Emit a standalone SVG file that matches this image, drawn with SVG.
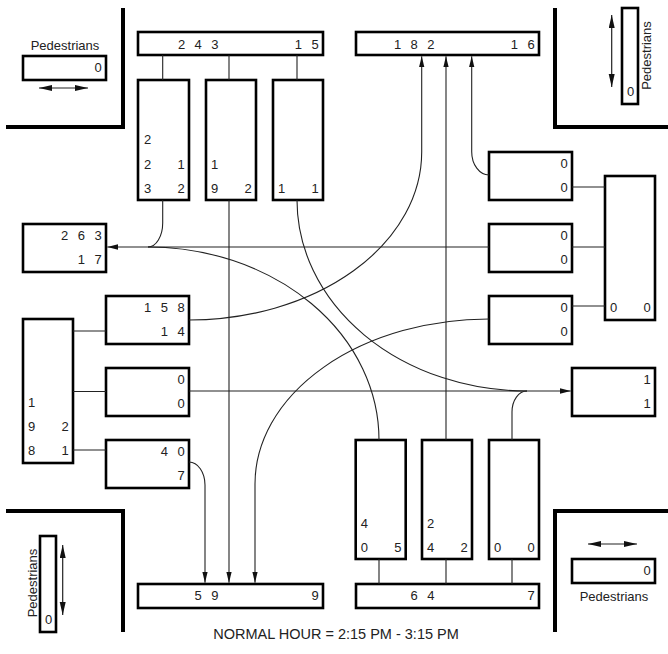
<svg xmlns="http://www.w3.org/2000/svg" width="668" height="654" viewBox="0 0 668 654">
<defs>
<marker id="ah" markerUnits="userSpaceOnUse" markerWidth="12" markerHeight="6" refX="11" refY="2.7" orient="auto"><path d="M0,0 L11,2.7 L0,5.4 Z" fill="#111"/></marker>
<marker id="ph" markerUnits="userSpaceOnUse" markerWidth="14" markerHeight="7" refX="13" refY="3" orient="auto-start-reverse"><path d="M0,0 L13,3 L0,6 Z" fill="#111"/></marker>
</defs>
<style>
.box{fill:#fff;stroke:#000;stroke-width:2.6}
.wall{fill:none;stroke:#000;stroke-width:4;stroke-linejoin:miter}
.ln{fill:none;stroke:#222;stroke-width:1.1}
.fl{fill:none;stroke:#222;stroke-width:1.1;marker-end:url(#ah)}
.pa{fill:none;stroke:#222;stroke-width:1.2;marker-start:url(#ph);marker-end:url(#ph)}
text{font-family:"Liberation Sans",Arial,Helvetica,sans-serif;fill:#222;font-size:13px}
.lbl{text-anchor:middle}
.title{font-size:14.5px;text-anchor:middle}
</style>
<rect width="668" height="654" fill="#fff"/>
<g id="walls">
<path class="wall" d="M6,127 H123 V8"/>
<path class="wall" d="M555,8 V127 H668"/>
<path class="wall" d="M6,511 H123 V632"/>
<path class="wall" d="M668,511 H555 V632"/>
</g>
<g id="ped-nw">
<text class="lbl" x="65" y="50">Pedestrians</text>
<rect class="box" x="23" y="56" width="83" height="24"/>
<text x="94.5" y="72">0</text>
<path class="pa" d="M39,88 H88"/>
</g>
<g id="ped-ne">
<rect class="box" x="622" y="8" width="16" height="96"/>
<text x="627" y="96">0</text>
<text class="lbl" transform="translate(651,55.5) rotate(-90)">Pedestrians</text>
<path class="pa" d="M611.7,15 V87"/>
</g>
<g id="ped-sw">
<rect class="box" x="40" y="536" width="16" height="96"/>
<text x="45" y="624">0</text>
<text class="lbl" transform="translate(36.7,583) rotate(-90)">Pedestrians</text>
<path class="pa" d="M62.7,545 V615"/>
</g>
<g id="ped-se">
<path class="pa" d="M588,544 H637"/>
<rect class="box" x="572" y="559" width="83" height="24"/>
<text x="643.5" y="575">0</text>
<text class="lbl" x="614" y="601">Pedestrians</text>
</g>
<g id="north-exit-in">
<rect class="box" x="138" y="32" width="185" height="23"/>
<text x="177.9 186 194.6 203 211.3" y="48.5">2 4 3</text>
<text x="294.8 303 311.5" y="48.5">1 5</text>
</g>
<g id="north-out">
<rect class="box" x="356" y="32" width="183" height="23"/>
<text x="393.9 402 410.6 419 427.3" y="48.5">1 8 2</text>
<text x="510.8 519 527.5" y="48.5">1 6</text>
</g>
<g id="sb-right">
<rect class="box" x="138" y="80" width="51" height="120"/>
<text x="144.1" y="144">2</text>
<text x="144.1 152 177.5" y="168.5">2 1</text>
<text x="144.1 152 177.5" y="193">3 2</text>
</g>
<g id="sb-through">
<rect class="box" x="206" y="80" width="50" height="120"/>
<text x="211.1" y="168.5">1</text>
<text x="211.1 220 244.5" y="193">9 2</text>
</g>
<g id="sb-left">
<rect class="box" x="273" y="80" width="50" height="120"/>
<text x="278.1 287 311.5" y="193">1 1</text>
</g>
<g id="west-out">
<rect class="box" x="23" y="224" width="83" height="48"/>
<text x="61.1 69 77.8 86 94.5" y="240">2 6 3</text>
<text x="77.8 86 94.5" y="263.5">1 7</text>
</g>
<g id="west-in">
<rect class="box" x="23" y="319" width="50" height="144"/>
<text x="28.1" y="407">1</text>
<text x="28.1 37 61.5" y="431">9 2</text>
<text x="28.1 37 61.5" y="455">8 1</text>
</g>
<g id="eb-left">
<rect class="box" x="106" y="296" width="83" height="48"/>
<text x="144.1 152 160.8 169 177.5" y="312">1 5 8</text>
<text x="160.8 169 177.5" y="335.5">1 4</text>
</g>
<g id="eb-through">
<rect class="box" x="106" y="368" width="83" height="48"/>
<text x="177.5" y="384">0</text>
<text x="177.5" y="407.5">0</text>
</g>
<g id="eb-right">
<rect class="box" x="106" y="440" width="83" height="48"/>
<text x="160.8 169 177.5" y="456">4 0</text>
<text x="177.5" y="479.5">7</text>
</g>
<g id="wb-right">
<rect class="box" x="489" y="152" width="83" height="48"/>
<text x="560.5" y="168">0</text>
<text x="560.5" y="191.5">0</text>
</g>
<g id="wb-through">
<rect class="box" x="489" y="224" width="83" height="48"/>
<text x="560.5" y="240">0</text>
<text x="560.5" y="263.5">0</text>
</g>
<g id="wb-left">
<rect class="box" x="489" y="296" width="83" height="48"/>
<text x="560.5" y="312">0</text>
<text x="560.5" y="335.5">0</text>
</g>
<g id="east-in">
<rect class="box" x="605" y="176" width="50" height="144"/>
<text x="610.1 619 643.5" y="312">0 0</text>
</g>
<g id="east-out">
<rect class="box" x="572" y="368" width="83" height="48"/>
<text x="643.5" y="384">1</text>
<text x="643.5" y="407.5">1</text>
</g>
<g id="nb-left">
<rect class="box" x="355.7" y="440" width="50" height="119"/>
<text x="360.8" y="528">4</text>
<text x="360.8 370 394.2" y="552">0 5</text>
</g>
<g id="nb-through">
<rect class="box" x="422" y="440" width="50" height="119"/>
<text x="427.1" y="528">2</text>
<text x="427.1 436 460.5" y="552">4 2</text>
</g>
<g id="nb-right">
<rect class="box" x="489" y="440" width="50" height="119"/>
<text x="494.1 503 527.5" y="552">0 0</text>
</g>
<g id="south-out">
<rect class="box" x="138" y="584" width="185" height="24"/>
<text x="194.6 203 211.3" y="600">5 9</text>
<text x="311.5" y="600">9</text>
</g>
<g id="south-in">
<rect class="box" x="356" y="584" width="183" height="24"/>
<text x="410.6 419 427.3" y="600">6 4</text>
<text x="527.5" y="600">7</text>
</g>
<g id="connectors">
<path class="ln" d="M162.7,55 V80 M229,55 V80 M297,55 V80"/>
<path class="ln" d="M572,187 H605 M572,247 H605 M572,306 H605"/>
<path class="ln" d="M73,331 H106 M73,391.5 H106 M73,450 H106"/>
<path class="ln" d="M379,559 V584 M446,559 V584 M512,559 V584"/>
<path class="fl" d="M489,247 H107.3"/>
<path class="ln" d="M162.7,200 V223 A14.7,24 0 0 1 148,247"/>
<path class="ln" d="M379,440 A231,193 0 0 0 148,247"/>
<path class="fl" d="M489,175 A17.3,23.3 0 0 1 471.7,151.7 V56.3"/>
<path class="fl" d="M446,440 V56.3"/>
<path class="fl" d="M189,320 A232.7,168 0 0 0 421.7,152 V56.3"/>
<path class="fl" d="M189,391 H570.7"/>
<path class="ln" d="M297,200 A230,191 0 0 0 527,391"/>
<path class="ln" d="M512,440 V412 A15,21 0 0 1 527,391"/>
<path class="fl" d="M229,200 V582.7"/>
<path class="fl" d="M489,319 A234,165 0 0 0 255,484 V582.7"/>
<path class="fl" d="M189,462 A16,23 0 0 1 205,485 V582.7"/>
</g>
<text class="title" x="336" y="639">NORMAL HOUR = 2:15 PM - 3:15 PM</text>
</svg>
